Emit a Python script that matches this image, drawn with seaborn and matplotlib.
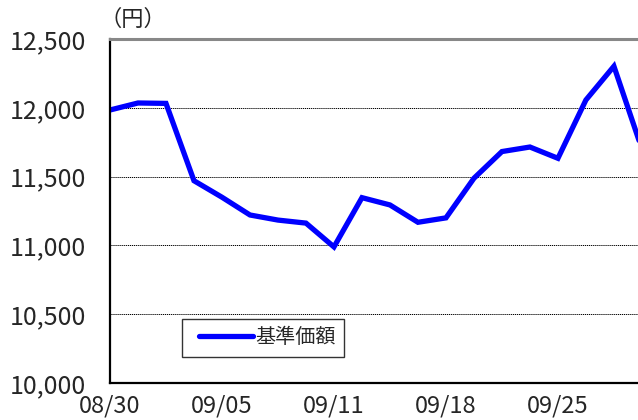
import numpy as np
import pandas as pd
import matplotlib
matplotlib.use("Agg")
import matplotlib.pyplot as plt
import seaborn as sns

# daily NAV (基準価額)
dates = ["08/30", "08/31", "09/01", "09/04", "09/05", "09/06", "09/07", "09/08",
         "09/11", "09/12", "09/13", "09/14", "09/18", "09/19", "09/20", "09/21",
         "09/25", "09/26", "09/27", "09/28"]
nav = [11984, 12035, 12032, 11470, 11350, 11221, 11184, 11162,
       10989, 11347, 11294, 11168, 11200, 11488, 11682, 11715,
       11633, 12057, 12302, 11700]
tick_labels = ["08/30", "09/05", "09/11", "09/18", "09/25"]
y_ticks = [10000, 10500, 11000, 11500, 12000, 12500]

df = pd.DataFrame({"pos": np.arange(len(dates)), "date": dates, "nav": nav})

sns.set_style("white")
plt.rcParams["font.family"] = ["Noto Sans CJK JP", "DejaVu Sans"]

fig = plt.figure(figsize=(6.38, 4.2), dpi=100)
ax = fig.add_axes([110 / 638, 1 - 383 / 420, 528 / 638, 344 / 420])

sns.lineplot(data=df, x="pos", y="nav", ax=ax, color="#0000ff", linewidth=3.8,
             label="基準価額", solid_joinstyle="miter")

ax.set_xlim(0, 18.86)
ax.set_ylim(10000, 12500)
ax.set_yticks(y_ticks)
ax.set_yticklabels([f"{v:,}" for v in y_ticks], fontsize=18)
ax.set_xticks([0, 4, 8, 12, 16])
ax.set_xticklabels(tick_labels, fontsize=17)
ax.set_xlabel("")
ax.set_ylabel("")

for v in y_ticks[1:-1]:
    ax.axhline(v, color="black", linewidth=0.7, linestyle=(0, (1.2, 0.8)), zorder=0)

ax.tick_params(axis="both", direction="in", length=5, width=1, color="black")
ax.tick_params(axis="y", pad=17)
ax.tick_params(axis="x", pad=8)

for side in ["left", "bottom"]:
    ax.spines[side].set_color("black")
    ax.spines[side].set_linewidth(1.6)
ax.spines["top"].set_color("#888888")
ax.spines["top"].set_linewidth(2.2)
ax.spines["right"].set_visible(False)

fig.text(133 / 638, 1 - 19 / 420, "（円）", fontsize=16, ha="center", va="center")

leg = ax.legend(loc="upper left", bbox_to_anchor=(72 / 528, 1 - 280 / 344),
                fontsize=14.5, frameon=True, fancybox=False, handlelength=3.1,
                borderpad=0.42, handletextpad=0.1, borderaxespad=0)
leg.get_frame().set_edgecolor("black")
leg.get_frame().set_linewidth(1)
for line in leg.get_lines():
    line.set_solid_capstyle("round")
    xd = np.asarray(line.get_xdata(), dtype=float)
    line.set_xdata(np.linspace(xd[0] + 6.5, xd[-1], len(xd)))

fig.savefig("out.png", dpi=100)
